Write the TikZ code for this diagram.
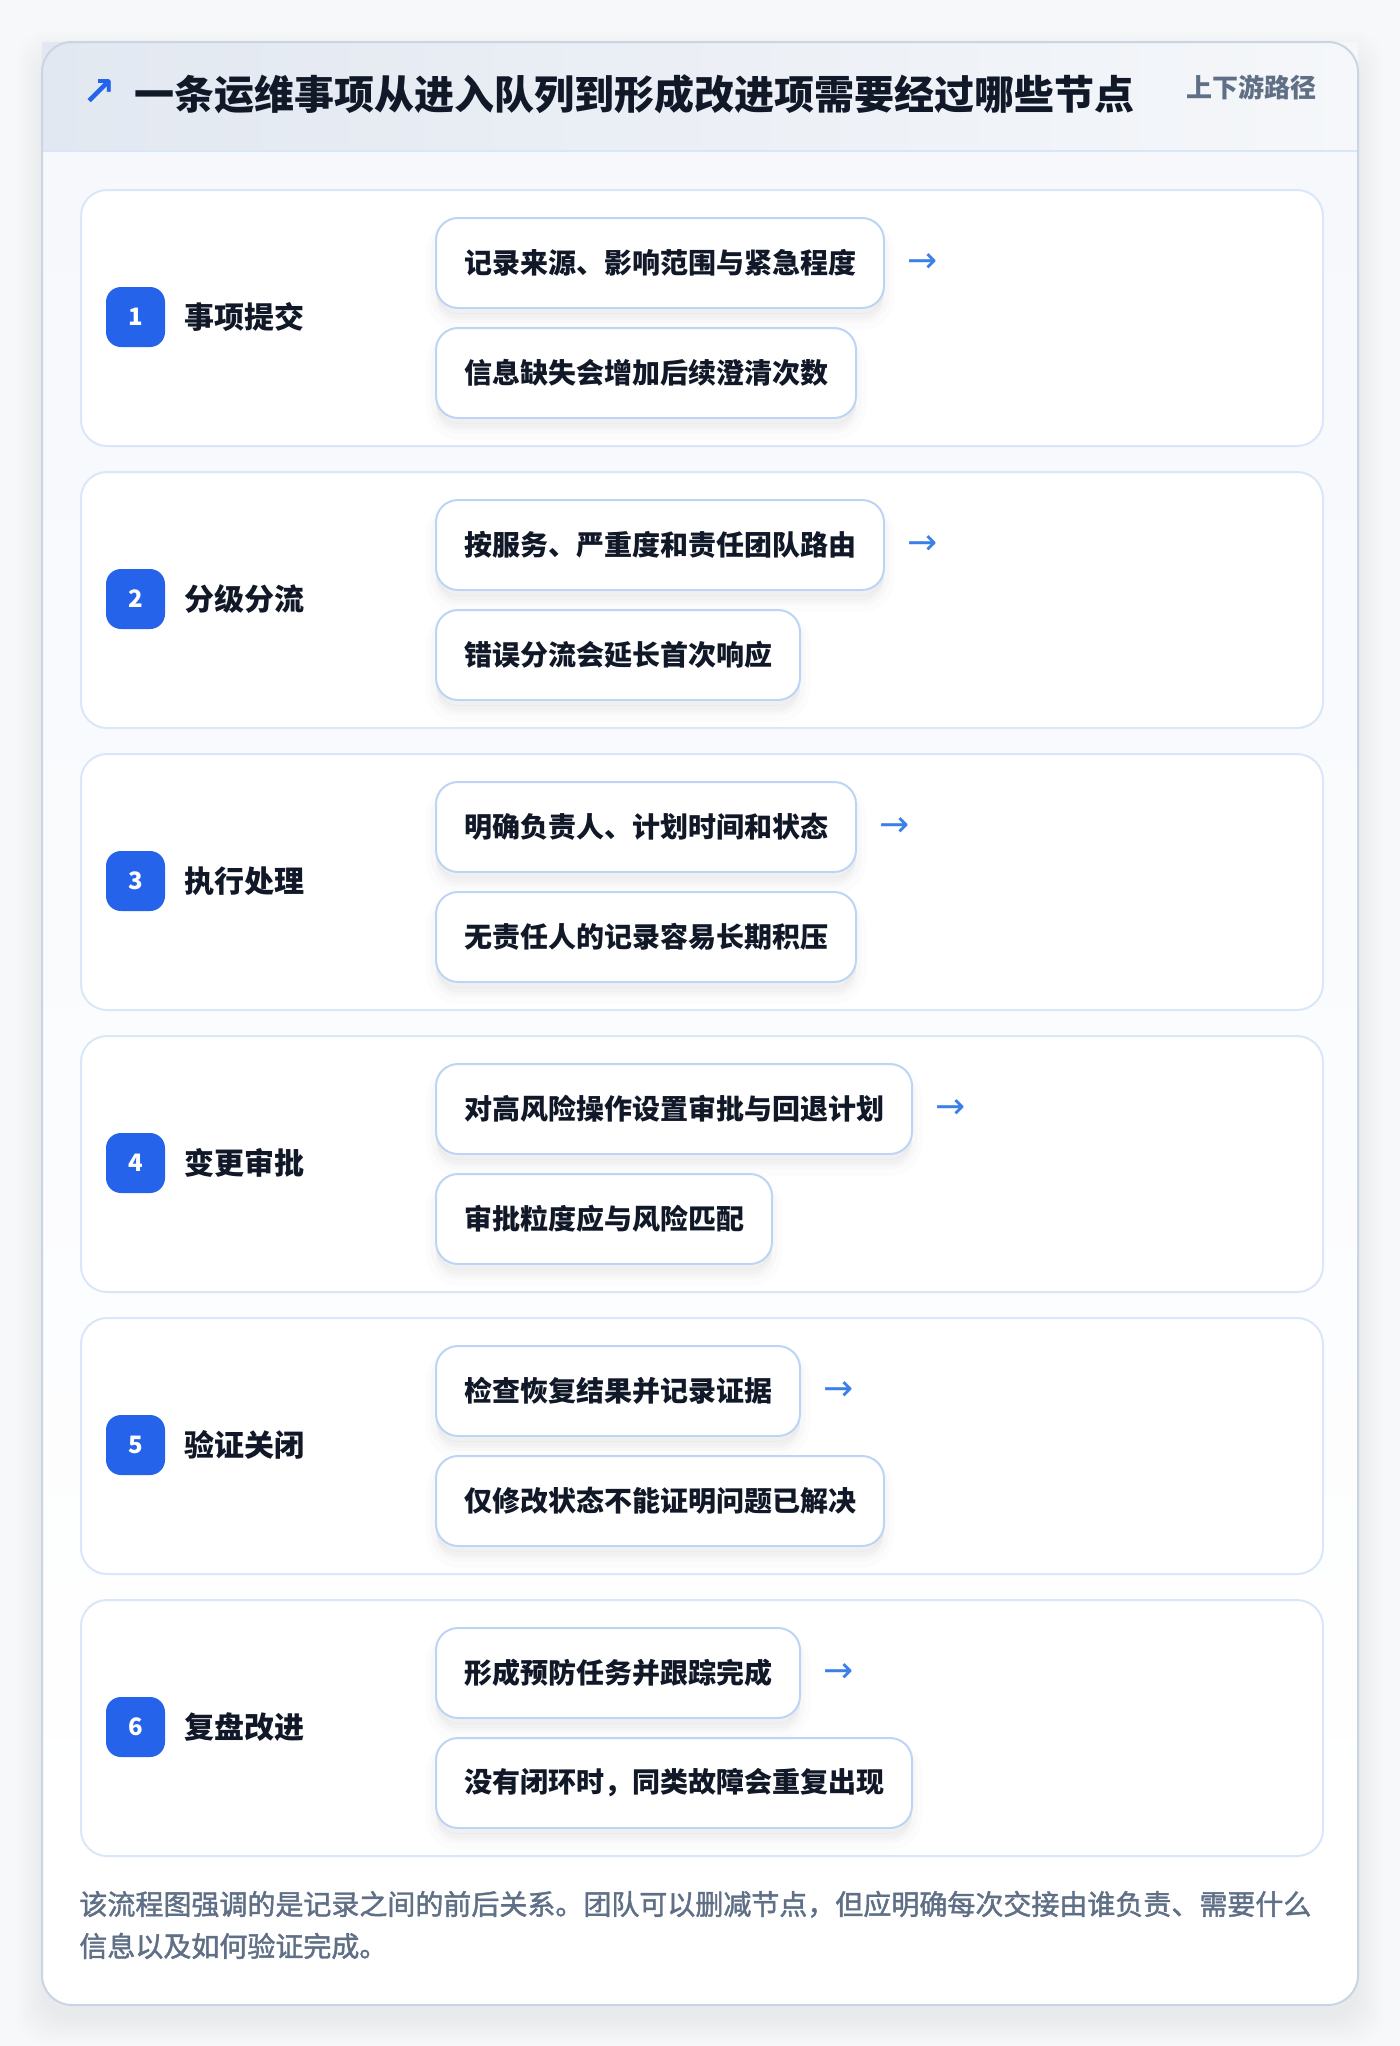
\documentclass[tikz,border=0pt]{standalone}
\usepackage{fontspec}
\setmainfont{Noto Sans CJK SC}
\newfontfamily\medfont{Noto Sans CJK SC}[FakeBold=1.6]
\newfontfamily\symfont{DejaVu Sans}
\usetikzlibrary{shadows}
\definecolor{pagebg}{HTML}{F7F8FA}
\definecolor{cardborder}{HTML}{CAD5E3}
\definecolor{bodybg}{HTML}{F6F8FC}
\definecolor{hdrL}{HTML}{E2E8F1}
\definecolor{hdrR}{HTML}{F5F7FA}
\definecolor{hdrline}{HTML}{D8E6F8}
\definecolor{boxborder}{HTML}{DAE7F8}
\definecolor{pillborder}{HTML}{BCD5F5}
\definecolor{ink}{HTML}{111827}
\definecolor{muted}{HTML}{5F6F86}
\definecolor{badgeblue}{HTML}{2563EB}
\definecolor{arrowblue}{HTML}{3B80E8}
\tikzset{
  stepbox/.style={draw=boxborder, line width=1pt, fill=white, rounded corners=13pt,
    minimum width=621pt, minimum height=128pt, inner sep=0pt, anchor=north west},
  badgebox/.style={fill=badgeblue, rounded corners=7.5pt, minimum width=29.5pt,
    minimum height=30pt, inner sep=0pt, text=white,
    font=\bfseries\fontsize{12pt}{14pt}\selectfont},
  steplabel/.style={anchor=west, inner sep=0pt, text=ink,
    font=\bfseries\fontsize{15pt}{17pt}\selectfont},
  pill/.style={draw=pillborder, line width=1pt, fill=white, rounded corners=11pt,
    minimum height=45pt, inner xsep=14pt, inner ysep=0pt, anchor=north west,
    text=ink, font=\bfseries\fontsize{14pt}{16pt}\selectfont,
    general shadow={fill=black, draw=black, line width=10pt, opacity=0.010, shadow yshift=-6pt},
    general shadow={fill=black, draw=black, line width=5pt, opacity=0.014, shadow yshift=-5pt},
    general shadow={fill=black, opacity=0.018, shadow yshift=-3pt}},
  arrowtxt/.style={anchor=west, inner sep=0pt, text=arrowblue,
    font=\symfont\fontsize{18pt}{20pt}\selectfont},
  foot/.style={anchor=west, inner sep=0pt, text=muted, align=left,
    font=\medfont\fontsize{14pt}{21pt}\selectfont}
}
\begin{document}
\begin{tikzpicture}[x=0.5pt, y=-0.5pt]
\useasboundingbox (0,0) rectangle (1400,2046);
\fill[pagebg] (0,0) rectangle (1400,2046);
% card shadow
\foreach \k in {0,...,13}{
  \fill[black, opacity=0.005, rounded corners=16pt]
    ({42-2*\k},{42-2*\k+14}) rectangle ({1358+2*\k},{2005+2*\k+14});
}
% card
\fill[white, rounded corners=15pt] (42,42) rectangle (1358,2005);
\shade[top color=bodybg, bottom color=white] (43,151) rectangle (1357,1860);
\shade[left color=hdrL, right color=hdrR] (42,42) rectangle (1358,151);
\draw[hdrline, line width=1pt] (42,151) -- (1358,151);
\draw[cardborder, line width=1pt, rounded corners=15pt] (42,42) rectangle (1358,2005);
% header texts
\node[text=badgeblue, inner sep=0pt, font=\symfont\bfseries\fontsize{20pt}{22pt}\selectfont]
  (icon) at (99.5,92.5) {↗};
\node[anchor=west, inner sep=0pt, text=ink, font=\bfseries\fontsize{20pt}{22pt}\selectfont]
  (title) at (134,94) {一条运维事项从进入队列到形成改进项需要经过哪些节点};
\node[anchor=east, inner sep=0pt, text=muted, font=\bfseries\fontsize{13pt}{15pt}\selectfont]
  (tag) at (1317,87) {上下游路径};
% rows
\foreach \i/\lab/\ta/\tb in {
  1/事项提交/记录来源、影响范围与紧急程度/信息缺失会增加后续澄清次数,
  2/分级分流/按服务、严重度和责任团队路由/错误分流会延长首次响应,
  3/执行处理/明确负责人、计划时间和状态/无责任人的记录容易长期积压,
  4/变更审批/对高风险操作设置审批与回退计划/审批粒度应与风险匹配,
  5/验证关闭/检查恢复结果并记录证据/仅修改状态不能证明问题已解决,
  6/复盘改进/形成预防任务并跟踪完成/没有闭环时，同类故障会重复出现}{
  \pgfmathsetmacro\T{189+282*(\i-1)}
  \node[stepbox] (row\i) at (80,\T) {};
  \node[badgebox] (b\i) at (135.5,\T+128) {\i};
  \node[steplabel] (l\i) at (184,\T+128) {\lab};
  \node[pill] (pa\i) at (435,\T+28) {\ta};
  \node[pill] (pb\i) at (435,\T+138) {\tb};
  \node[arrowtxt] (ar\i) at ([xshift=11pt]pa\i.east) {→};
}
% footer
\node[foot] (note) at (79,1925)
  {该流程图强调的是记录之间的前后关系。团队可以删减节点，但应明确每次交接由谁负责、需要什么\\信息以及如何验证完成。};
\end{tikzpicture}
\end{document}
